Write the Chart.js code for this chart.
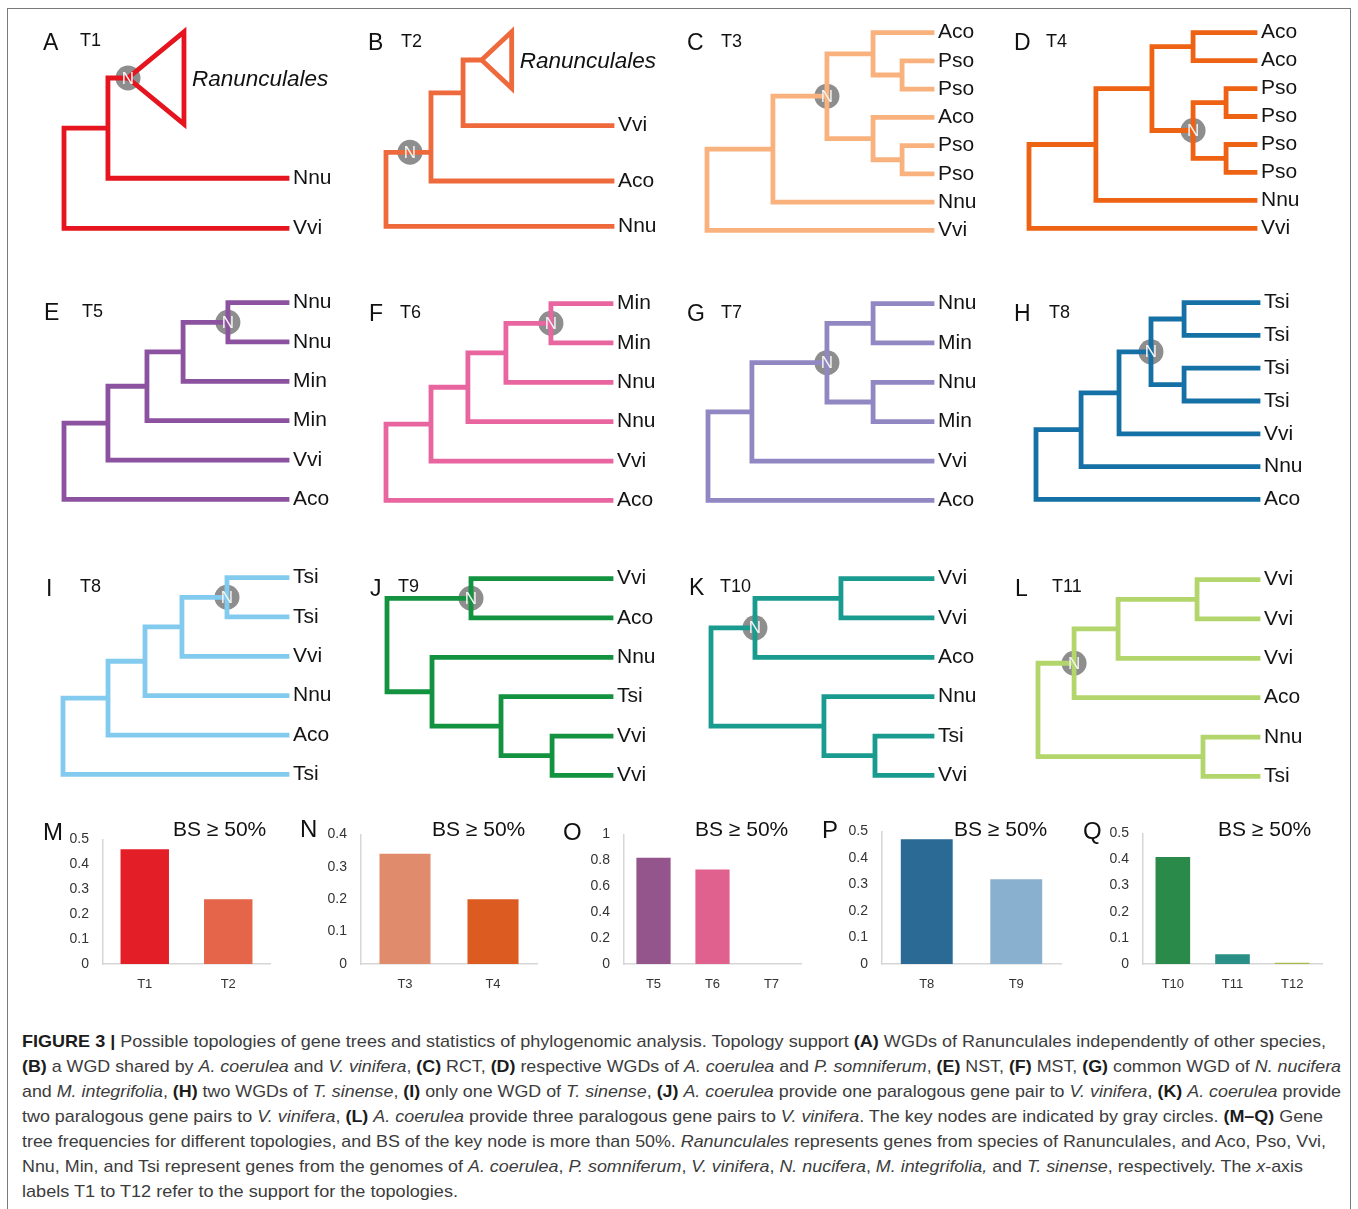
<!DOCTYPE html>
<html lang="en">
<head>
<meta charset="utf-8">
<title>Figure 3 – gene tree topologies</title>
<script src="https://cdn.jsdelivr.net/npm/chart.js@4.4.1/dist/chart.umd.min.js"></script>
<style>
  html, body { margin: 0; padding: 0; background: #fff; }
  body { position: relative; width: 1358px; height: 1209px; overflow: hidden;
         font-family: "Liberation Sans", Arial, sans-serif; }
  #frame { position: absolute; left: 7px; top: 8px; width: 1344px; height: 1202px;
           border: 1.5px solid #7a7a7a; box-sizing: border-box; }
  canvas { position: absolute; }
  .txt { position: absolute; white-space: nowrap; line-height: 1; color: #111; }
  .cap { position: absolute; left: 22px; white-space: nowrap; line-height: 1; font-size: 17px;
         color: #3c3c3c; transform-origin: 0 0; }
  .cap b { color: #1c1c1c; }
</style>
</head>
<body>
<div id="frame"></div>

<div class="cap"><b>FIGURE 3 |</b> Possible topologies of gene trees and statistics of phylogenomic analysis. Topology support <b>(A)</b> WGDs of Ranunculales independently of other species,</div>
<div class="cap"><b>(B)</b> a WGD shared by <i>A. coerulea</i> and <i>V. vinifera</i>, <b>(C)</b> RCT, <b>(D)</b> respective WGDs of <i>A. coerulea</i> and <i>P. somniferum</i>, <b>(E)</b> NST, <b>(F)</b> MST, <b>(G)</b> common WGD of <i>N. nucifera</i></div>
<div class="cap">and <i>M. integrifolia</i>, <b>(H)</b> two WGDs of <i>T. sinense</i>, <b>(I)</b> only one WGD of <i>T. sinense</i>, <b>(J)</b> <i>A. coerulea</i> provide one paralogous gene pair to <i>V. vinifera</i>, <b>(K)</b> <i>A. coerulea</i> provide</div>
<div class="cap">two paralogous gene pairs to <i>V. vinifera</i>, <b>(L)</b> <i>A. coerulea</i> provide three paralogous gene pairs to <i>V. vinifera</i>. The key nodes are indicated by gray circles. <b>(M–Q)</b> Gene</div>
<div class="cap">tree frequencies for different topologies, and BS of the key node is more than 50%. <i>Ranunculales</i> represents genes from species of Ranunculales, and Aco, Pso, Vvi,</div>
<div class="cap">Nnu, Min, and Tsi represent genes from the genomes of <i>A. coerulea</i>, <i>P. somniferum</i>, <i>V. vinifera</i>, <i>N. nucifera</i>, <i>M. integrifolia,</i> and <i>T. sinense</i>, respectively. The <i>x</i>-axis</div>
<div class="cap">labels T1 to T12 refer to the support for the topologies.</div>

<script>
// ================= gene tree data =================
// Internal node: { d: depth (root 0, tips 100), c: [children] }.
// A number child is an index into the leaf list. A { leaf, d, tip, half } child is a
// collapsed clade drawn as a triangle. key marks the key node; keyD puts the marker on
// the stem, and at overrides where the stem joins the node (in leaf-slot units).
const leavesA = ['Ranunculales', 'Nnu', 'Vvi'];
const slotsA  = [0, 2, 3];
const treeA = { d: 0, c: [
  { d: 19.7, c: [ { leaf: 0, d: 28.7, tip: 53.8, half: 0.92, key: true }, 1 ] }, 2 ] };

const leavesB = ['Ranunculales', 'Vvi', 'Aco', 'Nnu'];
const slotsB  = [0, 1.3, 2.4, 3.3];
const treeB = { d: 0, c: [
  { d: 19.9, at: 1.83, key: true, keyD: 10.6, c: [
    { d: 34.1, c: [ { leaf: 0, d: 42.3, tip: 55.6, half: 0.56 }, 1 ] }, 2 ] }, 3 ] };

const leavesC = ['Aco', 'Pso', 'Pso', 'Aco', 'Pso', 'Pso', 'Nnu', 'Vvi'];
const treeC = { d: 0, c: [
  { d: 29.3, c: [
    { d: 53.3, key: true, c: [
      { d: 73.8, c: [0, { d: 86.7, c: [1, 2] }] },
      { d: 73.8, c: [3, { d: 86.7, c: [4, 5] }] } ] }, 6 ] }, 7 ] };

const leavesD = ['Aco', 'Aco', 'Pso', 'Pso', 'Pso', 'Pso', 'Nnu', 'Vvi'];
const treeD = { d: 0, c: [
  { d: 29.6, c: [
    { d: 54.4, c: [
      { d: 72.6, c: [0, 1] },
      { d: 72.6, key: true, c: [ { d: 87.2, c: [2, 3] }, { d: 87.2, c: [4, 5] } ] } ] }, 6 ] }, 7 ] };

const leavesE = ['Nnu', 'Nnu', 'Min', 'Min', 'Vvi', 'Aco'];
const treeE = { d: 0, c: [ { d: 19.7, c: [ { d: 37.2, c: [ { d: 53.4, c: [
  { d: 73.5, key: true, c: [0, 1] }, 2 ] }, 3 ] }, 4 ] }, 5 ] };

const leavesF = ['Min', 'Min', 'Nnu', 'Nnu', 'Vvi', 'Aco'];
const treeF = { d: 0, c: [ { d: 20.0, c: [ { d: 36.4, c: [ { d: 53.3, c: [
  { d: 73.3, key: true, c: [0, 1] }, 2 ] }, 3 ] }, 4 ] }, 5 ] };

const leavesG = ['Nnu', 'Min', 'Nnu', 'Min', 'Vvi', 'Aco'];
const treeG = { d: 0, c: [ { d: 19.6, c: [
  { d: 53.1, key: true, c: [ { d: 73.7, c: [0, 1] }, { d: 73.7, c: [2, 3] } ] }, 4 ] }, 5 ] };

const leavesH = ['Tsi', 'Tsi', 'Tsi', 'Tsi', 'Vvi', 'Nnu', 'Aco'];
const treeH = { d: 0, c: [ { d: 20.3, c: [ { d: 37.4, c: [
  { d: 51.8, key: true, c: [ { d: 66.7, c: [0, 1] }, { d: 66.7, c: [2, 3] } ] }, 4 ] }, 5 ] }, 6 ] };

const leavesI = ['Tsi', 'Tsi', 'Vvi', 'Nnu', 'Aco', 'Tsi'];
const treeI = { d: 0, c: [ { d: 20.1, c: [ { d: 36.6, c: [ { d: 53.1, c: [
  { d: 73.2, key: true, c: [0, 1] }, 2 ] }, 3 ] }, 4 ] }, 5 ] };

const leavesJ = ['Vvi', 'Aco', 'Nnu', 'Tsi', 'Vvi', 'Vvi'];
const treeJ = { d: 0, c: [
  { d: 37.5, key: true, c: [0, 1] },
  { d: 20.1, c: [2, { d: 50.9, c: [3, { d: 73.7, c: [4, 5] }] }] } ] };

const leavesK = ['Vvi', 'Vvi', 'Aco', 'Nnu', 'Tsi', 'Vvi'];
const treeK = { d: 0, c: [
  { d: 19.9, key: true, c: [ { d: 58.8, c: [0, 1] }, 2 ] },
  { d: 51.1, c: [3, { d: 74.2, c: [4, 5] }] } ] };

const leavesL = ['Vvi', 'Vvi', 'Vvi', 'Aco', 'Nnu', 'Tsi'];
const treeL = { d: 0, c: [
  { d: 16.4, key: true, c: [ { d: 36.4, c: [ { d: 72.3, c: [0, 1] }, 2 ] }, 3 ] },
  { d: 75.0, c: [4, 5] } ] };

const treeLetters = ['A', 'B', 'C', 'D', 'E', 'F', 'G', 'H', 'I', 'J', 'K', 'L'];
const treeNames   = ['T1', 'T2', 'T3', 'T4', 'T5', 'T6', 'T7', 'T8', 'T8', 'T9', 'T10', 'T11'];

// ================= frequency data (M–Q) =================
const barCatsM = ['T1', 'T2'];          const barValsM = [0.46, 0.26];
const barCatsN = ['T3', 'T4'];          const barValsN = [0.34, 0.20];
const barCatsO = ['T5', 'T6', 'T7'];    const barValsO = [0.82, 0.73, 0];
const barCatsP = ['T8', 'T9'];          const barValsP = [0.47, 0.32];
const barCatsQ = ['T10', 'T11', 'T12']; const barValsQ = [0.41, 0.037, 0.005];
const barAxisMax  = [0.5, 0.4, 1, 0.5, 0.5];
const barAxisStep = [0.1, 0.1, 0.2, 0.1, 0.1];
const barLetters  = ['M', 'N', 'O', 'P', 'Q'];
const bsLabel = 'BS ≥ 50%';

// ================= styling and placement =================
const treeColors = ['#e5141e', '#ee6a3d', '#f9b27d', '#ee6213', '#8c52a0', '#e8659f',
                    '#9187c3', '#1570a6', '#83cbee', '#13923f', '#1a9b8f', '#b2d66b'];
// [root x, tip x, first leaf y, last leaf y] on the page
const treeBoxes = [
  [64, 287, 78, 228], [386, 612, 60, 226], [707, 932, 33, 231], [1029, 1255, 33, 229],
  [64, 287, 303, 500], [386, 611, 304, 501], [708, 932, 304, 501], [1036, 1258, 303, 500],
  [63, 287, 578, 775], [387, 611, 579, 776], [711, 932, 579, 776], [1038, 1258, 580, 777]
];
const treePadTop = [54, 40, 16, 16, 16, 16, 16, 16, 16, 16, 16, 16];
// [letter x, letter baseline, name x, name baseline]
const treeTitleSpots = [
  [43, 50, 80, 46], [368, 50, 401, 47], [687, 50, 721, 47], [1014, 50, 1046, 47],
  [44, 320, 82, 317], [369, 321, 400, 318], [687, 321, 721, 318], [1014, 321, 1049, 318],
  [46, 596, 80, 592], [370, 596, 398, 592], [689, 595, 720, 592], [1015, 596, 1052, 592]
];
const barColors = [
  ['#e31e26', '#e5654a'], ['#e08b6b', '#dc5b20'], ['#94558c', '#e0618e', '#e0618e'],
  ['#2a6a94', '#8ab0cf'], ['#2a8a4a', '#2a8f86', '#a9b94c']
];
// [y-axis x, right end x, top (axis max) y, baseline (0) y]
const barBoxes = [[103, 270, 839, 964], [361, 537, 834, 964], [624, 801, 834, 964],
                  [882, 1061, 831, 964], [1143, 1322, 833, 964]];
// [letter x, letter baseline, BS x, BS baseline]
const barTitleSpots = [[43, 840, 173, 836], [300, 837, 432, 836], [563, 840, 695, 836],
                       [822, 838, 954, 836], [1083, 839, 1218, 836]];
const captionBaselines = [1047, 1072, 1097, 1122, 1147, 1172, 1197];
const captionWidths = [1304, 1319, 1319, 1301, 1304, 1281, 436];

const FONT = '"Liberation Sans", Arial, sans-serif';

// ================= helpers =================
function putText(str, x, baseline, size, extra) {
  const d = document.createElement('div');
  d.className = 'txt';
  d.textContent = str;
  d.style.left = x + 'px';
  d.style.top = (baseline - 0.8465 * size) + 'px';
  d.style.fontSize = size + 'px';
  Object.assign(d.style, extra || {});
  document.body.appendChild(d);
  return d;
}

function makeCanvas(left, top, w, h) {
  const c = document.createElement('canvas');
  c.width = Math.round(w);
  c.height = Math.round(h);
  c.style.left = Math.round(left) + 'px';
  c.style.top = Math.round(top) + 'px';
  c.style.width = c.width + 'px';
  c.style.height = c.height + 'px';
  document.body.appendChild(c);
  return c;
}

// Builds a chart whose plot area lands on the given page box: a first pass measures
// the margins Chart.js reserves around the plot area, the second pass sizes the canvas.
function pinnedChart(makeConfig, box, pad) {
  const [l, r, t, b] = box;
  let cv = makeCanvas(l - pad[0], t - pad[1], (r - l) + pad[0] + pad[2], (b - t) + pad[1] + pad[3]);
  let chart = new Chart(cv, makeConfig());
  const a = chart.chartArea;
  const mL = a.left, mT = a.top, mR = cv.width - a.right, mB = cv.height - a.bottom;
  chart.destroy();
  cv.remove();
  cv = makeCanvas(l - mL, t - mT, (r - l) + mL + mR, (b - t) + mT + mB);
  return new Chart(cv, makeConfig());
}

const GAP = { x: null, y: null };

// Walks a topology and collects the branch segments, clade triangle and key markers.
function buildTree(node, slots, out) {
  if (typeof node === 'number') return { y: slots[node], d: 100 };
  if (node.leaf !== undefined) {
    const y = slots[node.leaf];
    out.tri.push({ x: node.tip, y }, { x: node.tip, y: y - node.half }, { x: node.d, y },
                 { x: node.tip, y: y + node.half }, { x: node.tip, y }, GAP);
    if (node.key) out.keys.push({ x: node.d, y });
    out.clade = { x: node.tip, y, leaf: node.leaf };
    return { y, d: node.d };
  }
  const kids = node.c.map(k => buildTree(k, slots, out));
  const ys = kids.map(k => k.y);
  const y = node.at !== undefined ? node.at : (ys[0] + ys[ys.length - 1]) / 2;
  out.seg.push({ x: node.d, y: Math.min(...ys) }, { x: node.d, y: Math.max(...ys) }, GAP);
  kids.forEach(k => out.seg.push({ x: node.d, y: k.y }, { x: k.d, y: k.y }, GAP));
  if (node.key) out.keys.push({ x: node.keyD !== undefined ? node.keyD : node.d, y });
  return { y, d: node.d };
}

// ================= tree panels =================
const trees = [
  [leavesA, slotsA, treeA], [leavesB, slotsB, treeB], [leavesC, null, treeC], [leavesD, null, treeD],
  [leavesE, null, treeE], [leavesF, null, treeF], [leavesG, null, treeG], [leavesH, null, treeH],
  [leavesI, null, treeI], [leavesJ, null, treeJ], [leavesK, null, treeK], [leavesL, null, treeL]
];

const PAD_L = 16, LABEL_W = 90, PAD_B = 16;

trees.forEach(([leaves, slotsIn, tree], i) => {
  const slots = slotsIn || leaves.map((_, k) => k);
  const [x0, x1, y0, y1] = treeBoxes[i];
  const padT = treePadTop[i];
  const color = treeColors[i];
  const out = { seg: [], tri: [], keys: [], clade: null };
  buildTree(tree, slots, out);
  const cladeLeaf = out.clade ? out.clade.leaf : -1;

  const makeConfig = () => {
    const line = { showLine: true, borderColor: color, borderWidth: 4.8, borderCapStyle: 'square',
                   borderJoinStyle: 'miter', pointRadius: 0, pointHoverRadius: 0, tension: 0,
                   spanGaps: false, clip: false };
    const datasets = [Object.assign({ data: out.seg.slice() }, line)];
    if (out.tri.length) datasets.push(Object.assign({ data: out.tri.slice() }, line));
    datasets.push({ data: out.keys.slice(), showLine: false, pointRadius: 12.5, pointHoverRadius: 12.5,
                    pointBackgroundColor: '#8e8e8e', pointBorderWidth: 0, clip: false });
    const treeText = {
      id: 'treeText',
      afterDatasetsDraw(chart) {
        const { ctx, scales } = chart;
        ctx.save();
        ctx.fillStyle = '#f4f4f4';
        ctx.font = '17px ' + FONT;
        ctx.textAlign = 'center';
        ctx.textBaseline = 'middle';
        out.keys.forEach(k => {
          ctx.fillText('N', scales.x.getPixelForValue(k.x), scales.y.getPixelForValue(k.y) + 1);
        });
        if (out.clade) {
          ctx.fillStyle = '#111';
          ctx.font = 'italic 22.5px ' + FONT;
          ctx.textAlign = 'left';
          ctx.fillText(leaves[cladeLeaf], scales.x.getPixelForValue(out.clade.x) + 8,
                       scales.y.getPixelForValue(out.clade.y) + 2);
        }
        ctx.restore();
      }
    };
    return {
      type: 'scatter',
      data: { datasets },
      plugins: [treeText],
      options: {
        responsive: false, maintainAspectRatio: false, animation: false, devicePixelRatio: 1,
        events: [],
        layout: { padding: { left: PAD_L, right: 0, top: padT, bottom: PAD_B } },
        plugins: { legend: { display: false }, tooltip: { enabled: false } },
        scales: {
          x: { type: 'linear', display: false, min: 0, max: 100 },
          y: {
            type: 'linear', position: 'right', reverse: true,
            min: slots[0], max: slots[slots.length - 1],
            grid: { display: false, drawTicks: false }, border: { display: false },
            afterBuildTicks: ax => { ax.ticks = slots.map(v => ({ value: v })); },
            afterFit: ax => { ax.width = LABEL_W; },
            ticks: {
              autoSkip: false, padding: 6, color: '#141414',
              font: { family: FONT, size: 21 },
              callback: (v, idx) => (idx === cladeLeaf ? '' : leaves[idx])
            }
          }
        }
      }
    };
  };

  pinnedChart(makeConfig, [x0, x1, y0, y1], [PAD_L, padT, LABEL_W, PAD_B]);

  const [lx, lb, nx, nb] = treeTitleSpots[i];
  putText(treeLetters[i], lx, lb, 23);
  putText(treeNames[i], nx, nb, 18);
});

// ================= frequency bar charts =================
const bars = [[barCatsM, barValsM], [barCatsN, barValsN], [barCatsO, barValsO],
              [barCatsP, barValsP], [barCatsQ, barValsQ]];
const AX_W = 50, AX_H = 36, BAR_PAD_T = 12;

bars.forEach(([cats, vals], i) => {
  const [ax, rx, ty, by] = barBoxes[i];
  const makeConfig = () => ({
    type: 'bar',
    data: {
      labels: cats.slice(),
      datasets: [{ data: vals.slice(), backgroundColor: barColors[i], borderWidth: 0,
                   categoryPercentage: 1, barPercentage: 0.58 }]
    },
    options: {
      responsive: false, maintainAspectRatio: false, animation: false, devicePixelRatio: 1,
      events: [],
      layout: { padding: { left: 0, right: 2, top: BAR_PAD_T, bottom: 0 } },
      plugins: { legend: { display: false }, tooltip: { enabled: false } },
      scales: {
        x: {
          grid: { display: false, drawTicks: false },
          border: { color: '#d6d6d6', width: 1.5 },
          afterFit: s => { s.height = AX_H; },
          ticks: { padding: 13, color: '#333', font: { family: FONT, size: 13 } }
        },
        y: {
          min: 0, max: barAxisMax[i],
          grid: { display: false, drawTicks: false },
          border: { color: '#d6d6d6', width: 1.5 },
          afterFit: s => { s.width = AX_W; },
          ticks: { stepSize: barAxisStep[i], padding: 14, color: '#333',
                   font: { family: FONT, size: 14 },
                   callback: v => String(+Number(v).toFixed(2)) }
        }
      }
    }
  });
  pinnedChart(makeConfig, [ax, rx, ty, by], [AX_W, BAR_PAD_T, 2, AX_H]);

  const [lx, lb, bx, bb] = barTitleSpots[i];
  putText(barLetters[i], lx, lb, 24);
  putText(bsLabel, bx, bb, 21);
});

// ================= caption =================
document.querySelectorAll('.cap').forEach((el, i) => {
  el.style.top = (captionBaselines[i] - 0.8465 * 17) + 'px';
  const w = el.getBoundingClientRect().width;
  el.style.transform = 'scaleX(' + (captionWidths[i] / w).toFixed(4) + ')';
});
</script>
</body>
</html>
